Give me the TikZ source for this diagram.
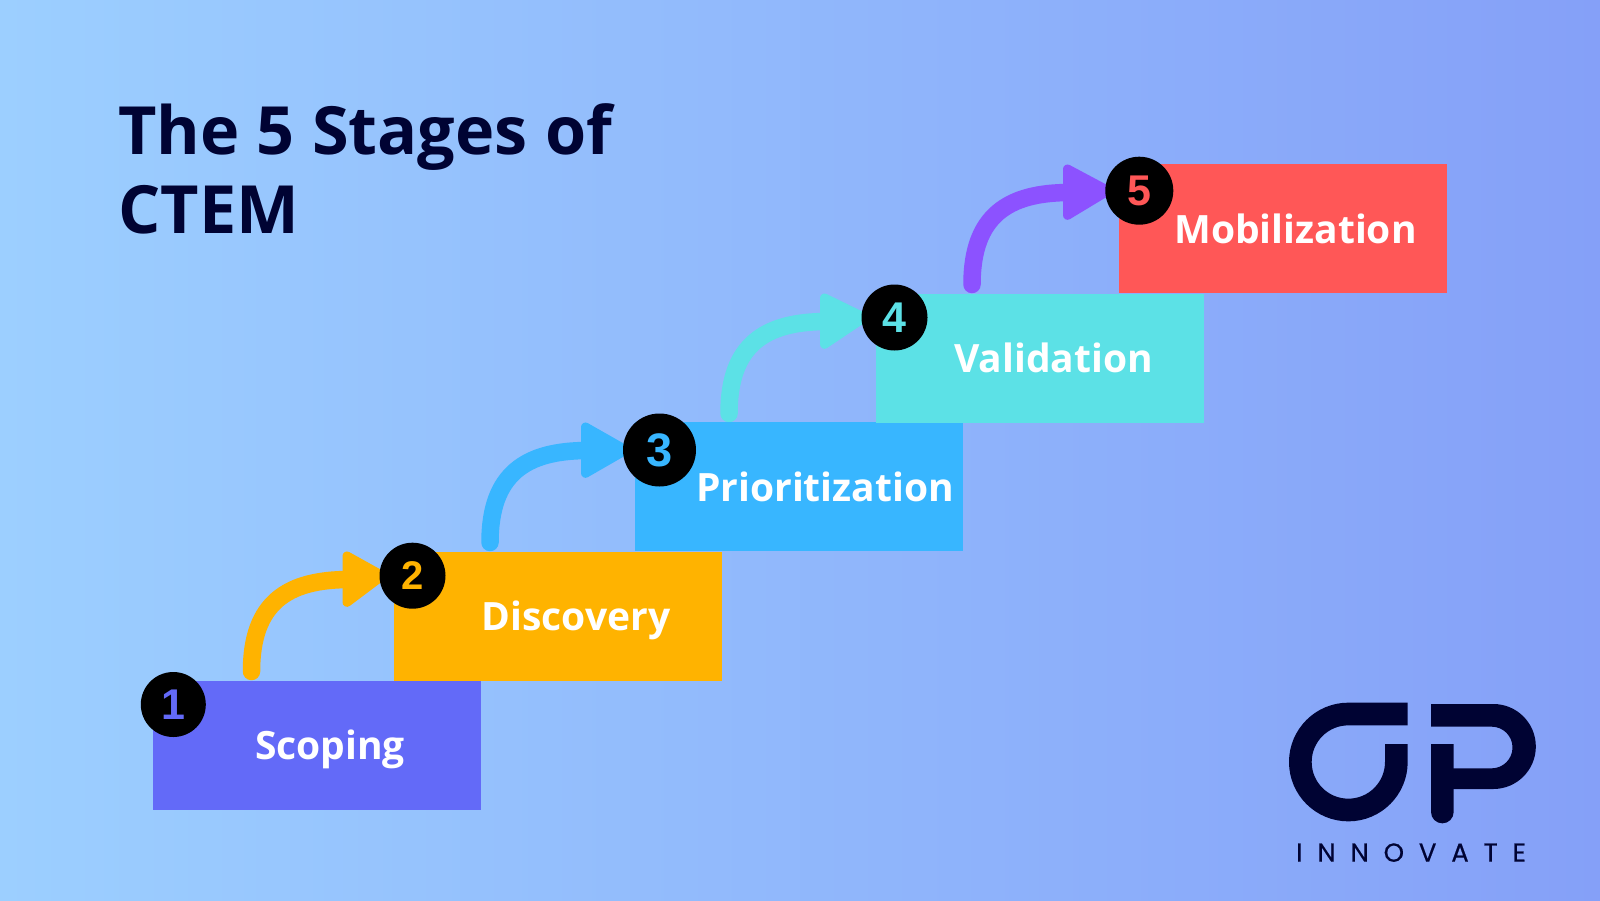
\documentclass[tikz,border=0pt]{standalone}
\usepackage{fontspec}
\setmainfont{Open Sans}
\newfontfamily\digitfont{Liberation Sans}
\newfontfamily\logofont[LetterSpace=57,FakeBold=0.5]{Poppins}
\definecolor{navy}{HTML}{000333}
\definecolor{cscope}{HTML}{636AF8}
\definecolor{cdisc}{HTML}{FFB300}
\definecolor{cprio}{HTML}{38B6FF}
\definecolor{cvalid}{HTML}{5CE1E6}
\definecolor{cmob}{HTML}{FF5757}
\definecolor{cpurple}{HTML}{8C52FF}
\definecolor{bgl}{HTML}{9CCFFF}
\definecolor{bgm}{HTML}{93BEFC}
\definecolor{bgr}{HTML}{85A0F8}
\pgfdeclarelayer{backdrop}
\pgfdeclarelayer{arrows}
\pgfsetlayers{backdrop,arrows,main}
\tikzset{
  stagebox/.style={anchor=north west,inner sep=0pt,outer sep=0pt,minimum width=328.2pt,minimum height=129pt,fill=#1},
  stagelabel/.style={anchor=base,inner sep=0pt,text=white,font=\bfseries\fontsize{39}{46}\selectfont},
  badge/.style={circle,fill=black,inner sep=0pt,outer sep=0pt,text=#1},
  digit/.style={font=\digitfont\bfseries\fontsize{#1}{46}\selectfont},
  shaft/.style={line width=17.5pt,line cap=round,draw=#1},
  headtip/.style={line width=9pt,line join=round,fill=#1,draw=#1},
  logostroke/.style={line width=22.67pt,draw=navy}
}
\newcommand{\stagearrow}[3]{%
  \draw[shaft=#1] (#2) .. controls ([shift={(0,-69)}]#2) and ([shift={(36,-92)}]#2) .. ([shift={(98,-92)}]#2);
  \draw[headtip=#1] ([shift={(95.5,-115.5)}]#2) -- ([shift={(95.5,-69.2)}]#2) -- ([xshift=3pt]#3.west) -- cycle;
}
\begin{document}
\begin{tikzpicture}[x=1pt,y=-1pt]
\useasboundingbox (0,0) rectangle (1600,900);
\begin{pgfonlayer}{backdrop}
\shade[left color=bgl,middle color=bgm,right color=bgr] (0,0) rectangle (1600,900);
\end{pgfonlayer}

\node[anchor=north west,inner sep=0pt,align=left,text=navy,font=\bfseries\fontsize{66.5}{79.5}\selectfont] (title) at (118,103) {The 5 Stages of\\CTEM};

\node[stagebox=cscope] (b1) at (152.5,681) {};
\node[stagebox=cdisc] (b2) at (393.5,551.7) {};
\node[stagebox=cprio] (b3) at (634.5,422.3) {};
\node[stagebox=cvalid] (b4) at (875.5,293.5) {};
\node[stagebox=cmob] (b5) at (1119,164) {};

\node[stagelabel] (l1) at (330,759.5) {Scoping};
\node[stagelabel] (l2) at (576,630.5) {Discovery};
\node[stagelabel] (l3) at (825,501.5) {Prioritization};
\node[stagelabel] (l4) at (1053.5,372.5) {Validation};
\node[stagelabel] (l5) at (1295.5,243.5) {Mobilization};

\coordinate (s1) at (251.5,671.5);
\coordinate (s2) at (490,542.5);
\coordinate (s3) at (729,413.5);
\coordinate (s4) at (972,284.5);

\node[badge=cdisc,digit=40,minimum size=66pt] (c2) at (412.5,575.7) {2};
\node[badge=cprio,digit=47,minimum size=73pt] (c3) at (659.5,450) {3};
\node[badge=cvalid,digit=43,minimum size=66pt] (c4) at (894.5,317.5) {4};
\node[badge=cmob,digit=43,minimum size=68pt] (c5) at (1139.3,190.7) {5};
\node[badge=cscope,digit=43,minimum size=65pt] (c1) at (173.3,704.5) {1};

\begin{pgfonlayer}{arrows}
\stagearrow{cdisc}{s1}{c2}
\stagearrow{cprio}{s2}{c3}
\stagearrow{cvalid}{s3}{c4}
\stagearrow{cpurple}{s4}{c5}
\end{pgfonlayer}

\begin{scope}[shift={(1260,680)},x=0.33333pt,y=-0.33333pt]
  \draw[logostroke] (443,102) -- (265,102) arc[start angle=270,end angle=0,radius=144] -- (409,192);
  \fill[navy] (513,72) -- (700,72) arc[start angle=270,end angle=450,radius=127.5] -- (547,327) -- (547,265) -- (695,265) arc[start angle=90,end angle=-90,radius=62.5] -- (513,140) -- cycle;
  \fill[navy] (513,192) -- (581,192) -- (581,396) arc[start angle=0,end angle=180,radius=34] -- cycle;
  \node[anchor=base west,inner sep=0pt,text=navy,font=\logofont\fontsize{26}{30}\selectfont] (logotext) at (108,545) {INNOVATE};
\end{scope}
\end{tikzpicture}
\end{document}
